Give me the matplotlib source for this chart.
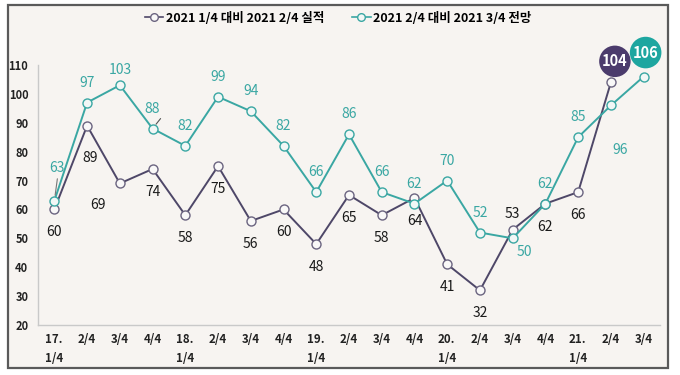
import numpy as np
import matplotlib.pyplot as plt
from matplotlib.patches import Rectangle
from matplotlib.lines import Line2D

plt.rcParams['font.family'] = ['Noto Sans CJK KR', 'DejaVu Sans']

# data
quarters = ["17.\n1/4", "2/4", "3/4", "4/4", "18.\n1/4", "2/4", "3/4", "4/4",
            "19.\n1/4", "2/4", "3/4", "4/4", "20.\n1/4", "2/4", "3/4", "4/4",
            "21.\n1/4", "2/4", "3/4"]
actual = [60, 89, 69, 74, 58, 75, 56, 60, 48, 65, 58, 64, 41, 32, 53, 62, 66, 104]
outlook = [63, 97, 103, 88, 82, 99, 94, 82, 66, 86, 66, 62, 70, 52, 50, 62, 85, 96, 106]
series_names = ["2021 1/4 대비 2021 2/4 실적", "2021 2/4 대비 2021 3/4 전망"]
yticks = [20, 30, 40, 50, 60, 70, 80, 90, 100, 110]

# colours
BG = '#f7f4f1'
PURPLE = '#4e4768'
TEAL = '#3aa7a3'
BUB_PURPLE = '#4b3b6c'
BUB_TEAL = '#1ea6a0'

# label offsets in pixels (dx, dy), y up
off_actual = {1: (3, -32), 2: (-22, -22), 14: (0, 16)}
off_outlook = {0: (3, 33), 2: (0, 15), 14: (12, -14), 17: (9, -45)}

fig = plt.figure(figsize=(6.8, 3.75), dpi=100)
fig.patch.set_facecolor('white')
fig.patches.append(Rectangle((8 / 680, 1 - 368 / 375), 660 / 680, 363 / 375,
                             transform=fig.transFigure, facecolor=BG,
                             edgecolor='#5a5a5a', lw=1.6, zorder=-10))

ax = fig.add_axes([38 / 680, 1 - 325 / 375, 622 / 680, 260 / 375])
ax.set_facecolor('none')

x = np.arange(len(quarters))
xa = x[:len(actual)]

ax.plot(xa, actual, color=PURPLE, lw=1.4, marker='o', ms=6.5,
        mfc='#f9f8f8', mec='#6b6480', mew=1.0, zorder=3)
ax.plot(x, outlook, color=TEAL, lw=1.4, marker='o', ms=6.5,
        mfc='#f2f7f6', mec=TEAL, mew=1.0, zorder=3)

k = 0.72  # px -> pt
for i, v in enumerate(actual):
    if i == len(actual) - 1:
        ax.annotate(str(v), (xa[i], v), xytext=(4 * k, 21 * k), textcoords='offset points',
                    ha='center', va='center', color='white', fontsize=10.5, fontweight='bold',
                    bbox=dict(boxstyle='circle,pad=0.2', fc=BUB_PURPLE, ec='none'), zorder=5)
        continue
    dx, dy = off_actual.get(i, (0, -23))
    ax.annotate(str(v), (xa[i], v), xytext=(dx * k, dy * k), textcoords='offset points',
                ha='center', va='center', color='#1a1a1a', fontsize=10)

for i, v in enumerate(outlook):
    if i == len(outlook) - 1:
        ax.annotate(str(v), (x[i], v), xytext=(2 * k, 24 * k), textcoords='offset points',
                    ha='center', va='center', color='white', fontsize=10.5, fontweight='bold',
                    bbox=dict(boxstyle='circle,pad=0.2', fc=BUB_TEAL, ec='none'), zorder=5)
        continue
    dx, dy = off_outlook.get(i, (0, 20))
    ax.annotate(str(v), (x[i], v), xytext=(dx * k, dy * k), textcoords='offset points',
                ha='center', va='center', color=TEAL, fontsize=10)

# small leader lines under the "63" and "88" labels
ax.annotate('', (x[0], outlook[0]), xytext=(3 * k, 22 * k), textcoords='offset points',
            arrowprops=dict(arrowstyle='-', color='#777777', lw=0.8, shrinkA=0, shrinkB=4))
ax.annotate('', (x[3], outlook[3]), xytext=(8 * k, 10 * k), textcoords='offset points',
            arrowprops=dict(arrowstyle='-', color='#555555', lw=0.8, shrinkA=0, shrinkB=4))

ax.set_xlim(-0.5, len(quarters) - 0.5)
ax.set_ylim(20, 110)
ax.set_yticks(yticks)
ax.set_xticks(x)
ax.set_xticklabels(quarters, fontsize=8.3, fontweight='bold', color='#222222',
                   multialignment='left', linespacing=1.6)
ax.set_yticklabels([str(t) for t in yticks], fontsize=8, fontweight='bold', color='#222222')
ax.tick_params(axis='both', length=0)
ax.tick_params(axis='y', pad=7)
ax.tick_params(axis='x', pad=6)
for s in ['top', 'right']:
    ax.spines[s].set_visible(False)
for s in ['left', 'bottom']:
    ax.spines[s].set_color('#c9c9c9')
    ax.spines[s].set_linewidth(1.0)

handles = [Line2D([], [], color=PURPLE, lw=1.2, marker='o', ms=5.5, mfc='#f9f8f8', mec='#6b6480'),
           Line2D([], [], color=TEAL, lw=1.2, marker='o', ms=5.5, mfc='#f2f7f6', mec=TEAL)]
fig.legend(handles, series_names, loc='center', bbox_to_anchor=(338 / 680, 1 - 18 / 375),
           ncol=2, frameon=False, handlelength=1.5, handletextpad=0.2, columnspacing=2.2,
           prop=dict(weight='bold', size=9))

fig.savefig('out.png', dpi=100, facecolor=fig.get_facecolor())
